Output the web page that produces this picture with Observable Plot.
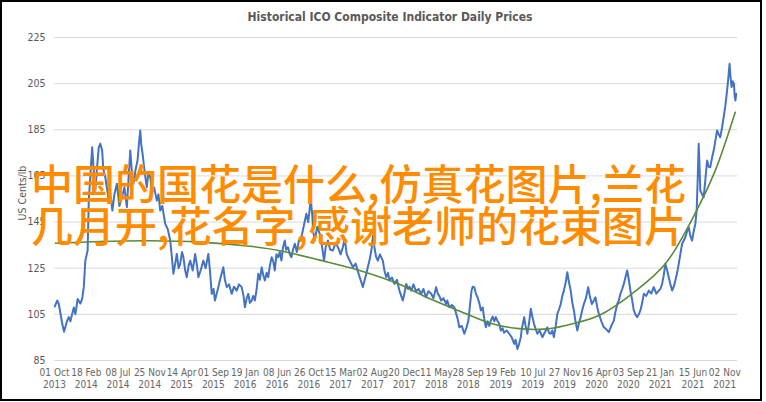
<!DOCTYPE html>
<html>
<head>
<meta charset="utf-8">
<script src="https://cdn.jsdelivr.net/npm/d3@7"></script>
<script src="https://cdn.jsdelivr.net/npm/@observablehq/plot@0.6"></script>
<style>
  html, body { margin: 0; padding: 0; background: #fff; }
  #wrap { position: relative; width: 766px; height: 402px; overflow: hidden; background: #fff; }
  #frame { position: absolute; left: 0; top: 0; width: 762px; height: 401px; box-sizing: border-box; border: 2px solid #000; pointer-events: none; }
  #chart { position: absolute; left: 0; top: 0; }
  #title { position: absolute; left: 0; width: 780px; top: 10px; text-align: center;
    font-family: "Liberation Sans Narrow", "DejaVu Sans Condensed", "Roboto", sans-serif; font-weight: bold; font-size: 12px; color: #595959; }
  #ytitle { position: absolute; left: 22px; top: 193px; transform: translate(-50%, -50%) rotate(-90deg);
    font-family: "Liberation Sans Narrow", "DejaVu Sans Condensed", "Roboto", sans-serif; font-size: 10.5px; color: #595959; white-space: nowrap; }
  #overlay { position: absolute; left: 31px; top: 161px; font-family: "Noto Sans CJK SC", sans-serif; font-weight: 500;
    font-size: 42px; line-height: 42px; color: #FF8C00; white-space: nowrap; }
</style>
</head>
<body>
<div id="wrap">
  <div id="chart"></div>
  <div id="title"></div>
  <div id="ytitle"></div>
  <div id="overlay"></div>
  <div id="frame"></div>
</div>
<script>
const chartTitle = "Historical ICO Composite Indicator Daily Prices";
const yAxisTitle = "US Cents/lb";
const overlayLines = ["中国的国花是什么,仿真花图片,兰花", "几月开,花名字,感谢老师的花束图片"];
const startDay = "01 Oct 2013";
const xTickLabels = ["01 Oct 2013","18 Feb 2014","08 Jul 2014","25 Nov 2014","14 Apr 2015","01 Sep 2015","19 Jan 2016","08 Jun 2016","26 Oct 2016","15 Mar 2017","02 Aug 2017","20 Dec 2017","11 May 2018","28 Sep 2018","19 Feb 2019","10 Jul 2019","27 Nov 2019","16 Apr 2020","03 Sep 2020","21 Jan 2021","15 Jun 2021","02 Nov 2021"];
const yTicks = [85,105,125,145,165,185,205,225];
const xSpanDays = 3010;

// [days since 01 Oct 2013, US cents/lb]
const priceSeries = [[1,108.4],[12,111],[19,109.5],[34,101],[42,97.5],[56,102.3],[63,103.8],[70,102],[85,108],[92,105],[102,111.7],[114,109.7],[122,111.7],[129,116.8],[136,128.3],[146,132.7],[151,154.3],[158,165],[166,177.4],[171,170],[180,158.7],[187,168],[195,177.4],[202,179],[210,176],[215,168],[224,164.4],[239,154.3],[246,158],[255,150],[264,157],[275,161.6],[286,152],[297,155.8],[308,160],[319,151.5],[327,165],[334,176],[340,168],[348,161.6],[356,167],[366,171.7],[373,180],[378,184.7],[382,179],[390,173.1],[398,166],[407,160.1],[413,166],[422,164.4],[431,158],[439,160],[451,154.3],[458,157],[466,150],[475,152],[488,144.2],[499,142],[510,137],[516,131],[524,122.6],[532,127],[539,131.2],[547,125],[554,126.9],[562,132],[568,129.8],[576,124],[583,121.1],[591,126],[598,128.3],[609,124],[620,131.2],[628,126],[634,121.1],[644,124],[656,128.3],[666,125],[678,131.2],[685,124],[693,113.9],[701,116],[707,111],[715,114],[722,116.8],[732,121],[744,125.4],[751,120],[759,116.8],[769,118],[781,113.9],[791,117],[803,115.3],[813,118],[825,116.8],[833,113],[839,108.1],[847,112],[854,113.9],[861,110],[869,111],[876,113],[883,111],[891,116],[898,122.6],[905,120],[913,125.4],[920,122],[927,119.7],[935,123],[942,121.1],[949,126],[957,129.8],[964,128],[971,124],[978,131],[986,129.8],[993,132],[1000,128.3],[1007,134],[1015,137],[1021,133],[1029,134.1],[1037,131],[1044,129.8],[1051,133],[1059,135.6],[1068,132],[1077,137],[1088,138.4],[1098,143],[1110,148.6],[1118,145],[1125,151],[1129,155.1],[1136,148],[1140,141],[1147,137],[1158,143],[1169,139.9],[1178,135],[1188,128.3],[1195,134],[1205,137],[1215,133],[1227,132.7],[1239,136],[1249,134.1],[1261,131],[1271,134.1],[1279,138],[1288,131],[1301,128.3],[1315,125.4],[1327,127],[1336,124],[1345,121.1],[1352,119],[1359,116.8],[1367,120],[1374,122.6],[1382,126],[1388,128.3],[1397,133],[1404,139],[1410,134.1],[1417,130],[1425,128.3],[1434,131],[1447,128.3],[1454,124],[1462,121.1],[1470,123],[1476,119.7],[1487,121],[1498,118.2],[1509,120],[1520,115.3],[1528,113],[1535,111],[1542,114],[1550,118.2],[1558,116],[1564,117],[1572,115.3],[1582,118],[1593,115],[1604,116],[1616,113.9],[1626,116],[1637,112.4],[1648,115],[1660,113.9],[1670,112],[1682,116.8],[1689,114],[1696,113],[1704,111],[1714,112],[1726,109.5],[1731,111],[1740,108.1],[1751,109],[1762,108.1],[1771,105],[1777,103],[1784,99.4],[1795,100],[1806,96.6],[1815,99],[1824,102.3],[1830,108],[1838,115.3],[1843,117],[1850,116.8],[1857,114],[1864,112.4],[1872,110],[1879,106.7],[1887,108],[1894,103],[1901,99.4],[1909,102],[1916,100],[1923,102.3],[1931,104],[1938,102],[1945,103.8],[1953,102],[1960,100.9],[1967,98],[1975,99],[1981,97],[1993,98],[2004,96.6],[2015,95],[2026,92.2],[2032,94],[2040,90],[2047,92],[2055,95.1],[2060,99],[2070,103.8],[2076,100],[2084,96.6],[2091,101],[2099,107.4],[2106,104],[2113,100.9],[2121,98.5],[2128,96.6],[2138,98],[2150,95.1],[2160,97],[2172,99.4],[2179,97],[2187,96.6],[2194,98],[2201,95.1],[2209,100],[2216,105.2],[2223,107],[2231,109.5],[2238,113],[2245,115.3],[2253,119],[2260,123.3],[2267,119],[2275,115.3],[2282,110],[2289,106.7],[2296,102],[2304,98],[2311,101],[2319,103.8],[2326,107],[2333,109.5],[2342,112],[2352,116.8],[2359,113],[2368,109.5],[2377,111],[2384,112.4],[2392,108],[2399,105.2],[2410,102],[2421,99.4],[2432,98.5],[2443,97.3],[2454,100],[2465,102.3],[2472,106],[2480,109.5],[2487,111],[2494,113.9],[2502,116],[2509,118.2],[2516,121],[2524,124],[2531,120],[2538,115.3],[2546,111],[2553,106.7],[2560,105],[2568,103.8],[2575,105],[2582,106.7],[2590,110],[2597,113.9],[2608,113],[2619,115.3],[2630,114],[2641,116.8],[2652,114],[2663,115.3],[2670,116],[2678,118.2],[2685,122],[2692,126.9],[2700,124],[2707,121.1],[2714,118],[2722,115.3],[2729,117],[2736,119.7],[2744,123],[2751,126.9],[2758,131],[2766,135.6],[2773,137],[2780,138.4],[2788,141],[2795,142.8],[2802,139],[2810,137],[2817,141],[2824,144.2],[2830,150],[2835,165],[2839,178.9],[2843,168],[2846,158.7],[2854,157],[2861,155.8],[2868,163],[2876,171.7],[2883,169],[2890,168.8],[2898,173],[2905,176],[2912,180],[2920,184.7],[2927,183],[2934,181.8],[2942,186],[2949,190.5],[2956,195],[2964,202],[2969,207],[2975,213.6],[2979,208],[2984,203.5],[2989,206],[2994,205],[2998,199],[3001,197.7],[3004,200.6]];

// polynomial trend line
const trendSeries = [[4,135.8],[202,136.6],[422,136.9],[642,136.3],[861,134.5],[993,132.6],[1169,128.5],[1345,124],[1520,118],[1639,112.4],[1784,106.5],[1929,100.9],[2047,98.8],[2157,98.6],[2253,100.2],[2399,104.5],[2545,113.9],[2692,126.9],[2839,151.8],[2912,167.3],[3000,192.6]];

const parseLabel = d3.utcParse("%d %b %Y");
const start = parseLabel(startDay);
const toDate = (d) => d3.utcDay.offset(start, d);
const prices = priceSeries.map(([d, v]) => ({date: toDate(d), value: v}));
const trend = trendSeries.map(([d, v]) => ({date: toDate(d), value: v}));
const tickDates = xTickLabels.map(parseLabel);
const fmtA = d3.utcFormat("%d %b"), fmtB = d3.utcFormat("%Y");

const font = '"Liberation Sans Narrow", "DejaVu Sans Condensed", Roboto, sans-serif';

const plot = Plot.plot({
  width: 762,
  height: 400,
  marginLeft: 54,
  marginRight: 25,
  marginTop: 37,
  marginBottom: 40,
  style: {fontFamily: font, fontSize: "10.5px", color: "#595959", background: "transparent"},
  x: {type: "utc", domain: [start, toDate(xSpanDays)]},
  y: {domain: [85, 225]},
  marks: [
    Plot.gridY(yTicks, {stroke: "#d9d9d9", strokeOpacity: 1, strokeWidth: 1}),
    Plot.axisY({ticks: yTicks, tickSize: 0, tickPadding: 9, label: null, fill: "#595959"}),
    Plot.axisX({ticks: tickDates, tickSize: 0, tickPadding: 7, label: null, lineHeight: 1.2, fontSize: 10,
      tickFormat: (d) => fmtA(d) + "\n" + fmtB(d), fill: "#666666"}),
    Plot.line(prices, {x: "date", y: "value", stroke: "#4472C4", strokeWidth: 2, strokeLinejoin: "round"}),
    Plot.line(trend, {x: "date", y: "value", stroke: "#5a8a3a", strokeWidth: 1.6, curve: "catmull-rom"})
  ]
});
document.getElementById("chart").appendChild(plot);
document.getElementById("title").textContent = chartTitle;
document.getElementById("ytitle").textContent = yAxisTitle;
document.getElementById("overlay").innerHTML = overlayLines.map(s => `<div>${s}</div>`).join("");
</script>
</body>
</html>
